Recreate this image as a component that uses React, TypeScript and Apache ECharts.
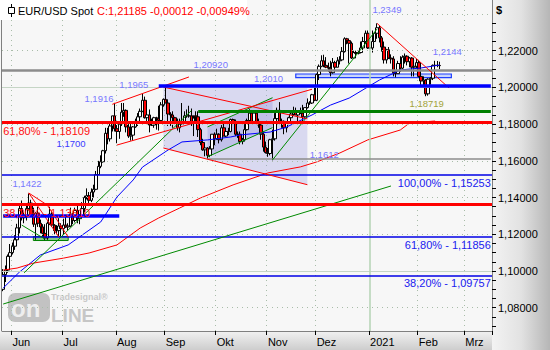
import React, { useEffect, useRef } from "react";
import * as echarts from "echarts";

// ---------- price data: [open, high, low, close] per trading day ----------
const may2020 = [
  [1.0900, 1.1010, 1.0890, 1.0980], [1.0980, 1.1030, 1.0940, 1.1005], [1.1005, 1.1090, 1.0990, 1.1080], [1.1080, 1.1147, 1.1070, 1.1100],
];
const jun2020 = [
  [1.1100, 1.1155, 1.1090, 1.1135], [1.1135, 1.1195, 1.1115, 1.1170], [1.1170, 1.1257, 1.1165, 1.1235], [1.1235, 1.1362, 1.1205, 1.1340], [1.1340, 1.1384, 1.1275, 1.1290],
  [1.1290, 1.1320, 1.1260, 1.1295], [1.1295, 1.1360, 1.1275, 1.1340], [1.1340, 1.1422, 1.1330, 1.1370], [1.1370, 1.1388, 1.1300, 1.1300], [1.1300, 1.1345, 1.1240, 1.1255],
  [1.1255, 1.1320, 1.1170, 1.1315], [1.1315, 1.1350, 1.1240, 1.1260], [1.1260, 1.1280, 1.1205, 1.1240], [1.1240, 1.1255, 1.1185, 1.1205], [1.1205, 1.1255, 1.1168, 1.1180],
  [1.1180, 1.1270, 1.1170, 1.1260], [1.1260, 1.1350, 1.1250, 1.1310], [1.1310, 1.1320, 1.1240, 1.1250], [1.1250, 1.1255, 1.1200, 1.1220], [1.1220, 1.1250, 1.1200, 1.1220],
  [1.1220, 1.1290, 1.1190, 1.1245], [1.1245, 1.1260, 1.1190, 1.1230],
];
const jul2020 = [
  [1.1230, 1.1285, 1.1200, 1.1250], [1.1250, 1.1300, 1.1235, 1.1240], [1.1240, 1.1260, 1.1220, 1.1245],
  [1.1245, 1.1345, 1.1240, 1.1310], [1.1310, 1.1315, 1.1255, 1.1275], [1.1275, 1.1345, 1.1265, 1.1330], [1.1330, 1.1370, 1.1260, 1.1285], [1.1285, 1.1310, 1.1255, 1.1300],
  [1.1300, 1.1375, 1.1300, 1.1340], [1.1340, 1.1410, 1.1320, 1.1400], [1.1400, 1.1450, 1.1390, 1.1410], [1.1410, 1.1430, 1.1370, 1.1385], [1.1385, 1.1450, 1.1375, 1.1430],
  [1.1430, 1.1470, 1.1400, 1.1445], [1.1445, 1.1545, 1.1440, 1.1525], [1.1525, 1.1600, 1.1525, 1.1570], [1.1570, 1.1630, 1.1560, 1.1595], [1.1595, 1.1660, 1.1590, 1.1655],
  [1.1655, 1.1780, 1.1640, 1.1750], [1.1750, 1.1780, 1.1690, 1.1720], [1.1720, 1.1805, 1.1705, 1.1790], [1.1790, 1.1845, 1.1760, 1.1845], [1.1845, 1.1916, 1.1760, 1.1775],
];
const aug2020 = [
  [1.1775, 1.1795, 1.1696, 1.1760], [1.1760, 1.1810, 1.1720, 1.1800], [1.1800, 1.1915, 1.1790, 1.1865], [1.1865, 1.1915, 1.1840, 1.1875], [1.1875, 1.1880, 1.1755, 1.1785],
  [1.1785, 1.1810, 1.1725, 1.1735], [1.1735, 1.1805, 1.1710, 1.1740], [1.1740, 1.1790, 1.1710, 1.1785], [1.1785, 1.1830, 1.1780, 1.1815], [1.1815, 1.1860, 1.1790, 1.1840],
  [1.1840, 1.1885, 1.1835, 1.1870], [1.1870, 1.1965, 1.1865, 1.1930], [1.1930, 1.1950, 1.1830, 1.1835], [1.1835, 1.1885, 1.1800, 1.1850], [1.1850, 1.1880, 1.1755, 1.1795],
  [1.1795, 1.1830, 1.1790, 1.1795], [1.1795, 1.1840, 1.1780, 1.1835], [1.1835, 1.1840, 1.1770, 1.1830], [1.1830, 1.1900, 1.1765, 1.1820], [1.1820, 1.1920, 1.1815, 1.1905],
  [1.1905, 1.1940, 1.1895, 1.1935],
];
const sep2020 = [
  [1.1935, 1.2011, 1.1915, 1.1915], [1.1915, 1.1935, 1.1790, 1.1855], [1.1855, 1.1865, 1.1790, 1.1850], [1.1850, 1.1870, 1.1780, 1.1835],
  [1.1835, 1.1840, 1.1800, 1.1815], [1.1815, 1.1830, 1.1765, 1.1780], [1.1780, 1.1830, 1.1755, 1.1800], [1.1800, 1.1915, 1.1800, 1.1815], [1.1815, 1.1870, 1.1805, 1.1845],
  [1.1845, 1.1880, 1.1835, 1.1845], [1.1845, 1.1900, 1.1835, 1.1845], [1.1845, 1.1885, 1.1790, 1.1815], [1.1815, 1.1830, 1.1735, 1.1845], [1.1845, 1.1870, 1.1810, 1.1840],
  [1.1840, 1.1870, 1.1730, 1.1770], [1.1770, 1.1780, 1.1685, 1.1700], [1.1700, 1.1720, 1.1655, 1.1660], [1.1660, 1.1690, 1.1625, 1.1670], [1.1670, 1.1675, 1.1612, 1.1630],
  [1.1630, 1.1680, 1.1620, 1.1665], [1.1665, 1.1745, 1.1650, 1.1745], [1.1745, 1.1755, 1.1685, 1.1720],
];
const oct2020 = [
  [1.1720, 1.1775, 1.1715, 1.1745], [1.1745, 1.1750, 1.1695, 1.1715],
  [1.1715, 1.1795, 1.1705, 1.1780], [1.1780, 1.1810, 1.1735, 1.1735], [1.1735, 1.1775, 1.1730, 1.1760], [1.1760, 1.1780, 1.1740, 1.1760], [1.1760, 1.1830, 1.1755, 1.1825],
  [1.1825, 1.1830, 1.1795, 1.1815], [1.1815, 1.1825, 1.1735, 1.1745], [1.1745, 1.1760, 1.1725, 1.1745], [1.1745, 1.1760, 1.1690, 1.1705], [1.1705, 1.1725, 1.1690, 1.1715],
  [1.1715, 1.1800, 1.1705, 1.1770], [1.1770, 1.1830, 1.1765, 1.1820], [1.1820, 1.1881, 1.1815, 1.1860], [1.1860, 1.1860, 1.1805, 1.1815], [1.1815, 1.1860, 1.1810, 1.1860],
  [1.1860, 1.1870, 1.1800, 1.1810], [1.1810, 1.1830, 1.1780, 1.1795], [1.1795, 1.1800, 1.1715, 1.1745], [1.1745, 1.1760, 1.1650, 1.1675], [1.1675, 1.1705, 1.1640, 1.1645],
];
const nov2020 = [
  [1.1645, 1.1670, 1.1622, 1.1640], [1.1640, 1.1720, 1.1630, 1.1715], [1.1715, 1.1770, 1.1603, 1.1720], [1.1720, 1.1860, 1.1710, 1.1830], [1.1830, 1.1890, 1.1810, 1.1875],
  [1.1875, 1.1920, 1.1800, 1.1815], [1.1815, 1.1830, 1.1780, 1.1815], [1.1815, 1.1820, 1.1745, 1.1780], [1.1780, 1.1815, 1.1755, 1.1810], [1.1810, 1.1840, 1.1800, 1.1835],
  [1.1835, 1.1870, 1.1820, 1.1855], [1.1855, 1.1895, 1.1845, 1.1865], [1.1865, 1.1890, 1.1850, 1.1850], [1.1850, 1.1870, 1.1815, 1.1870], [1.1870, 1.1890, 1.1855, 1.1860],
  [1.1860, 1.1905, 1.1800, 1.1840], [1.1840, 1.1890, 1.1835, 1.1890], [1.1890, 1.1940, 1.1885, 1.1915], [1.1915, 1.1925, 1.1905, 1.1915], [1.1915, 1.1965, 1.1910, 1.1960],
  [1.1960, 1.2005, 1.1925, 1.1930],
];
const dec2020 = [
  [1.1930, 1.2075, 1.1925, 1.2070], [1.2070, 1.2125, 1.2040, 1.2115], [1.2115, 1.2175, 1.2110, 1.2145], [1.2145, 1.2178, 1.2110, 1.2120],
  [1.2120, 1.2165, 1.2105, 1.2110], [1.2110, 1.2135, 1.2085, 1.2105], [1.2105, 1.2145, 1.2060, 1.2080], [1.2080, 1.2160, 1.2075, 1.2135], [1.2135, 1.2145, 1.2090, 1.2110],
  [1.2110, 1.2165, 1.2110, 1.2145], [1.2145, 1.2170, 1.2125, 1.2150], [1.2150, 1.2220, 1.2150, 1.2195], [1.2195, 1.2273, 1.2190, 1.2265], [1.2265, 1.2270, 1.2235, 1.2255],
  [1.2255, 1.2260, 1.2130, 1.2240], [1.2240, 1.2250, 1.2155, 1.2160], [1.2160, 1.2200, 1.2155, 1.2190], [1.2190, 1.2200, 1.2170, 1.2185], [1.2185, 1.2200, 1.2180, 1.2190],
  [1.2190, 1.2250, 1.2185, 1.2215], [1.2215, 1.2275, 1.2210, 1.2250], [1.2250, 1.2310, 1.2240, 1.2295], [1.2295, 1.2310, 1.2210, 1.2215],
];
const jan2021 = [
  [1.2215, 1.2225, 1.2210, 1.2215],
  [1.2215, 1.2310, 1.2190, 1.2250], [1.2250, 1.2300, 1.2250, 1.2295], [1.2295, 1.2349, 1.2265, 1.2325], [1.2325, 1.2340, 1.2245, 1.2270], [1.2270, 1.2280, 1.2195, 1.2220],
  [1.2220, 1.2250, 1.2130, 1.2150], [1.2150, 1.2210, 1.2130, 1.2205], [1.2205, 1.2220, 1.2155, 1.2160], [1.2160, 1.2180, 1.2130, 1.2155], [1.2155, 1.2170, 1.2060, 1.2080],
  [1.2080, 1.2090, 1.2055, 1.2075], [1.2075, 1.2145, 1.2075, 1.2130], [1.2130, 1.2170, 1.2085, 1.2105], [1.2105, 1.2175, 1.2100, 1.2165], [1.2165, 1.2185, 1.2130, 1.2170],
  [1.2170, 1.2175, 1.2120, 1.2140], [1.2140, 1.2165, 1.2110, 1.2160], [1.2160, 1.2165, 1.2060, 1.2110], [1.2110, 1.2140, 1.2060, 1.2115], [1.2115, 1.2155, 1.2105, 1.2135],
];
const feb2021 = [
  [1.2135, 1.2150, 1.2055, 1.2060], [1.2060, 1.2080, 1.2010, 1.2035], [1.2035, 1.2060, 1.2005, 1.2040], [1.2040, 1.2045, 1.1952, 1.1965], [1.1965, 1.2050, 1.1955, 1.2045],
  [1.2045, 1.2055, 1.2015, 1.2050], [1.2050, 1.2125, 1.2040, 1.2120], [1.2120, 1.2145, 1.2110, 1.2120], [1.2120, 1.2144, 1.2110, 1.21197], [1.21197, 1.2140, 1.2100, 1.21185],
];

// ---------- moving averages (date, value) ----------
const maBluePoints: [string, number][] = [
  ["2020-05-26", 1.0907], ["2020-06-04", 1.0994], ["2020-06-17", 1.1087], ["2020-07-03", 1.1142], ["2020-07-23", 1.1267],
  ["2020-08-03", 1.1403], ["2020-08-12", 1.1496], ["2020-08-18", 1.1566], ["2020-09-02", 1.1659], ["2020-09-10", 1.1703],
  ["2020-09-25", 1.1714], ["2020-10-09", 1.1730], ["2020-10-15", 1.1741], ["2020-11-03", 1.1757], ["2020-11-12", 1.1784],
  ["2020-11-27", 1.1850], ["2020-12-09", 1.1904], ["2020-12-21", 1.1942], ["2021-01-07", 1.2040], ["2021-01-20", 1.2095],
  ["2021-02-02", 1.2106], ["2021-02-12", 1.2122],
];
const maRedPoints: [string, number][] = [
  ["2020-05-26", 1.1005], ["2020-06-03", 1.1016], ["2020-06-12", 1.1043], ["2020-07-01", 1.1070], ["2020-07-16", 1.1098],
  ["2020-08-03", 1.1142], ["2020-08-17", 1.1234], ["2020-08-27", 1.1289], ["2020-09-09", 1.1343], ["2020-09-22", 1.1398],
  ["2020-10-12", 1.1469], ["2020-11-02", 1.1534], ["2020-11-20", 1.1567], ["2020-12-01", 1.1594], ["2020-12-15", 1.1643],
  ["2020-12-31", 1.1714], ["2021-01-20", 1.1768], ["2021-01-26", 1.1806], ["2021-02-10", 1.1817],
];

// ---------- axes ----------
const yLabelValues = [1.08, 1.1, 1.12, 1.14, 1.16, 1.18, 1.2, 1.22];
const gridDotLevels = [1.08, 1.12, 1.14, 1.16, 1.18, 1.22, 1.24];
const gridSolidLevels = [1.1, 1.2];
const monthNames = ["Jan", "Feb", "Mrz", "Apr", "Mai", "Jun", "Jul", "Aug", "Sep", "Okt", "Nov", "Dez"];

// ---------- annotations ----------
const resistanceLevel = 1.2092;
const fibRedLevels = [1.18109, 1.1361];
const fibBlueLevels = [1.15253, 1.11856, 1.09757];
const blueThickSeg: [string, string, number][] = [["2020-08-27", "2021-03-16", 1.201], ["2020-05-26", "2020-08-04", 1.13]];
const greenThickSeg: [string, string, number][] = [["2020-09-21", "2021-03-16", 1.18719]];
const graySeg: [string, string, number][] = [["2020-09-25", "2021-03-16", 1.1612]];
const greenTrends: [string, number, string, number][] = [
  ["2020-05-26", 1.082, "2021-01-14", 1.1463],
  ["2020-06-08", 1.099, "2020-09-16", 1.1873],
  ["2020-11-04", 1.1605, "2021-01-06", 1.2318],
  ["2020-09-25", 1.1785, "2020-11-04", 1.1944],
  ["2020-09-25", 1.1622, "2020-11-04", 1.1781],
  ["2020-06-05", 1.125, "2020-06-19", 1.1174],
];
const redTrends: [string, number, string, number][] = [
  ["2020-07-30", 1.1908, "2020-09-15", 1.2057],
  ["2020-08-03", 1.1686, "2020-11-27", 1.199],
  ["2020-08-31", 1.2002, "2020-11-25", 1.1829],
  ["2020-08-31", 1.167, "2020-11-25", 1.147],
  ["2021-01-06", 1.2349, "2021-02-18", 1.1997],
  ["2020-06-10", 1.1425, "2020-06-22", 1.1359],
  ["2020-06-10", 1.1425, "2020-06-29", 1.1185],
  ["2020-06-22", 1.1359, "2020-07-03", 1.1185],
];
const zones: [string, number][][] = [
  [["2020-08-31", 1.201], ["2020-11-25", 1.201], ["2020-11-25", 1.147], ["2020-08-31", 1.167]],
  [["2020-09-25", 1.1785], ["2020-11-04", 1.1944], ["2020-11-04", 1.1781], ["2020-09-25", 1.1622]],
  [["2020-11-18", 1.2073], ["2021-02-19", 1.2073], ["2021-02-19", 1.2053], ["2020-11-18", 1.2053]],
  [["2020-06-12", 1.1188], ["2020-07-03", 1.1188], ["2020-07-03", 1.1166], ["2020-06-12", 1.1166]],
];
const priceLabels: [string, number, string][] = [
  ["2021-01-04", 1.2422, "1,2349"], ["2021-02-09", 1.2193, "1,2144"], ["2020-09-17", 1.2127, "1,20920"],
  ["2020-10-23", 1.2046, "1,2010"], ["2020-08-04", 1.2018, "1,1965"], ["2020-07-14", 1.1942, "1,1916"],
  ["2020-11-26", 1.1637, "1,1612"], ["2020-06-01", 1.1479, "1,1422"],
];
const oliveLabels: [string, number, string][] = [["2021-01-26", 1.1915, "1,18719"]];
const blueSmallLabels: [string, number, string][] = [["2020-06-26", 1.1697, "1,1700"]];
const fibLeftLabels: [string, number, string][] = [["2020-05-26", 1.1763, "61,80% - 1,18109"], ["2020-05-26", 1.1316, "38,20% - 1,13610"]];
const fibRightLabels: [string, number, string][] = [
  ["2021-03-16", 1.1479, "100,00% - 1,15253"], ["2021-03-16", 1.1142, "61,80% - 1,11856"], ["2021-03-16", 1.0935, "38,20% - 1,09757"],
];

// ---------- derived ----------
const dates: string[] = [];
for (let t = Date.UTC(2020, 4, 26); t <= Date.UTC(2021, 2, 16); t += 86400000) {
  const d = new Date(t);
  const wd = d.getUTCDay();
  if (wd !== 0 && wd !== 6) dates.push(d.toISOString().slice(0, 10));
}
const dateIndex = new Map<string, number>();
dates.forEach((d, i) => dateIndex.set(d, i));
const monthStart = new Set<number>();
dates.forEach((d, i) => {
  if (i > 0 && d.slice(0, 7) !== dates[i - 1].slice(0, 7)) monthStart.add(i);
});
const ohlc = [...may2020, ...jun2020, ...jul2020, ...aug2020, ...sep2020, ...oct2020, ...nov2020, ...dec2020, ...jan2021, ...feb2021];
const candleData = ohlc.map(([o, h, l, c]) => [o, c, l, h]);
const toSeries = (pts: [string, number][]) => {
  const m = new Map(pts);
  return dates.map((d) => (m.has(d) ? m.get(d)! : null));
};

const FONT = "Liberation Sans, Arial, sans-serif";

export default function App() {
  const ref = useRef<HTMLDivElement>(null);
  useEffect(() => {
    if (!ref.current) return;
    const chart = echarts.init(ref.current, undefined, { renderer: "svg" });

    const seg = (a: [string, string, number][], color: string, width: number) =>
      a.map(([d1, d2, v]) => [
        { coord: [d1, v], lineStyle: { color, width, type: "solid" } },
        { coord: [d2, v], lineStyle: { color, width, type: "solid" } },
      ]);
    const trend = (a: [string, number, string, number][], color: string) =>
      a.map(([d1, v1, d2, v2]) => [
        { coord: [d1, v1], lineStyle: { color, width: 1, type: "solid" } },
        { coord: [d2, v2], lineStyle: { color, width: 1, type: "solid" } },
      ]);
    const lbl = (a: [string, number, string][], color: string, size: number, align: string) =>
      a.map(([d, v, t]) => ({
        coord: [d, v],
        label: { show: true, position: "inside", formatter: t, color, fontSize: size, fontFamily: FONT, align, verticalAlign: "middle" },
      }));

    const zoneStyles = [
      { fill: "rgba(150,150,225,0.30)", stroke: "none", lineWidth: 0 },
      { fill: "rgba(130,130,215,0.28)", stroke: "none", lineWidth: 0 },
      { fill: "rgba(170,190,255,0.6)", stroke: "#1f3fff", lineWidth: 1.2 },
      { fill: "#88cc88", stroke: "#008000", lineWidth: 1 },
    ];

    const option: any = {
      animation: false,
      backgroundColor: "#f7f7f7",
      grid: { left: 2, right: 58, top: 0, bottom: 19, show: false },
      xAxis: {
        type: "category",
        data: dates,
        boundaryGap: true,
        axisLine: { show: true, lineStyle: { color: "#808080", width: 1 } },
        axisTick: { show: true, interval: (i: number) => monthStart.has(i), length: 4, lineStyle: { color: "#000" } },
        axisLabel: {
          interval: (i: number) => monthStart.has(i),
          formatter: (v: string) => (v.slice(5, 7) === "01" ? v.slice(0, 4) : monthNames[Number(v.slice(5, 7)) - 1]),
          align: "left",
          color: "#000",
          fontSize: 11,
          fontFamily: FONT,
          margin: 5,
        },
        splitLine: {
          show: true,
          interval: (i: number) => monthStart.has(i) && dates[i] !== "2021-01-01",
          lineStyle: { color: "#a9bda9", type: [1, 4], width: 1 },
        },
      },
      yAxis: {
        type: "value",
        position: "right",
        min: 1.06731,
        max: 1.24762,
        axisLine: { show: true, lineStyle: { color: "#808080" } },
        axisTick: {
          show: true,
          length: 4,
          customValues: Array.from({ length: 34 }, (_, k) => +(1.07 + k * 0.005).toFixed(3)),
          lineStyle: { color: "#000" },
        },
        axisLabel: {
          customValues: yLabelValues,
          formatter: (v: number) => v.toFixed(5).replace(".", ","),
          color: "#000",
          fontSize: 11,
          fontFamily: FONT,
          margin: 6,
        },
        splitLine: { show: false },
      },
      series: [
        {
          type: "line",
          name: "grid",
          data: dates.map(() => null),
          z: 0,
          silent: true,
          markLine: {
            silent: true,
            precision: 6,
            symbol: ["none", "none"],
            label: { show: false },
            animation: false,
            data: [
              ...gridDotLevels.map((v) => ({ yAxis: v, lineStyle: { color: "#a9bda9", type: [1, 4], width: 1 } })),
              ...gridSolidLevels.map((v) => ({ yAxis: v, lineStyle: { color: "#c5d5c5", type: "solid", width: 1 } })),
              { xAxis: "2021-01-01", lineStyle: { color: "#b5d3b5", type: "solid", width: 1.5 } },
            ],
          },
        },
        {
          type: "custom",
          name: "zones",
          z: 1,
          silent: true,
          data: zones.map((zn) => [dateIndex.get(zn[0][0]), zn[0][1]]),
          renderItem: (params: any, api: any) => {
            const zn = zones[params.dataIndex];
            const pts = zn.map(([d, v]) => api.coord([dateIndex.get(d), v]));
            const st = zoneStyles[params.dataIndex];
            return { type: "polygon", shape: { points: pts }, style: { fill: st.fill, stroke: st.stroke, lineWidth: st.lineWidth } };
          },
        },
        {
          type: "candlestick",
          name: "EUR/USD",
          data: candleData,
          barWidth: 3,
          z: 2,
          itemStyle: { color: "#ffffff", color0: "#ff0000", borderColor: "#000000", borderColor0: "#000000", borderWidth: 1 },
        },
        {
          type: "line",
          name: "MA blue",
          data: toSeries(maBluePoints),
          connectNulls: true,
          showSymbol: false,
          symbol: "none",
          z: 3,
          lineStyle: { color: "#0000ff", width: 1 },
        },
        {
          type: "line",
          name: "MA red",
          data: toSeries(maRedPoints),
          connectNulls: true,
          showSymbol: false,
          symbol: "none",
          z: 3,
          lineStyle: { color: "#ff0000", width: 1 },
        },
        {
          type: "line",
          name: "annotations",
          data: dates.map(() => null),
          z: 4,
          silent: true,
          markLine: {
            silent: true,
            precision: 6,
            symbol: ["none", "none"],
            label: { show: false },
            data: [
              { yAxis: resistanceLevel, lineStyle: { color: "#8c8c8c", width: 2.5, type: "solid" } },
              ...fibBlueLevels.map((v) => ({ yAxis: v, lineStyle: { color: "#0000e6", width: 1.5, type: "solid" } })),
              ...seg(graySeg, "#8c8c8c", 1.5),
              ...trend(greenTrends, "#008a00"),
              ...trend(redTrends, "#ff0000"),
              ...fibRedLevels.map((v) => ({ yAxis: v, lineStyle: { color: "#ff0000", width: 3, type: "solid" } })),
              ...seg(greenThickSeg, "#008000", 3),
              ...seg(blueThickSeg, "#0000ff", 3.5),
            ],
          },
          markPoint: {
            silent: true,
            symbol: "circle",
            symbolSize: 1,
            itemStyle: { color: "rgba(0,0,0,0)" },
            data: [
              ...lbl(priceLabels, "#7878ff", 9.5, "left"),
              ...lbl(oliveLabels, "#a3a33a", 9.5, "left"),
              ...lbl(blueSmallLabels, "#3b3bff", 9.5, "left"),
              ...lbl(fibLeftLabels, "#ff1010", 11, "left"),
              ...lbl(fibRightLabels, "#2020f0", 11, "right"),
            ],
          },
        },
      ],
      graphic: {
        elements: [
          {
            type: "rect",
            z: -1,
            silent: true,
            shape: { x: 492, y: 0, width: 58, height: 350 },
            style: {
              fill: { type: "linear", x: 0, y: 0, x2: 1, y2: 0, colorStops: [{ offset: 0, color: "#f3f3f3" }, { offset: 0.5, color: "#e2e2e2" }, { offset: 1, color: "#b6b6b6" }] },
            },
          },
          {
            type: "rect",
            z: -1,
            silent: true,
            shape: { x: 0, y: 331, width: 492, height: 19 },
            style: {
              fill: { type: "linear", x: 0, y: 0, x2: 0, y2: 1, colorStops: [{ offset: 0, color: "#f2f2f2" }, { offset: 1, color: "#cdcdcd" }] },
            },
          },
          { type: "line", z: 5, silent: true, shape: { x1: 1.5, y1: 0, x2: 1.5, y2: 331 }, style: { stroke: "#808080", lineWidth: 1 } },
          // watermark
          { type: "rect", z: -1, silent: true, shape: { x: 8, y: 293, width: 42, height: 29, r: 7 }, style: { fill: "#c2c2c2" } },
          { type: "text", z: -1, silent: true, style: { x: 11, y: 308, text: "on", fill: "#eeeeee", font: "bold 24px Liberation Sans, Arial, sans-serif", textVerticalAlign: "middle" } },
          { type: "text", z: -1, silent: true, style: { x: 51, y: 315, text: "LINE", fill: "#c6c6c6", font: "bold 19px Liberation Sans, Arial, sans-serif", textVerticalAlign: "middle" } },
          { type: "text", z: -1, silent: true, style: { x: 51, y: 297, text: "Tradesignal®", fill: "#c8c8c8", font: "bold 9px Liberation Sans, Arial, sans-serif", textVerticalAlign: "middle" } },
          // title
          { type: "rect", z: 10, silent: true, shape: { x: 0, y: 0, width: 247, height: 20 }, style: { fill: "#ffffff" } },
          { type: "line", z: 11, silent: true, shape: { x1: 11.5, y1: 4, x2: 11.5, y2: 17 }, style: { stroke: "#000", lineWidth: 1 } },
          { type: "rect", z: 12, silent: true, shape: { x: 8.5, y: 7.5, width: 6, height: 6 }, style: { fill: "#ffffff", stroke: "#000", lineWidth: 1 } },
          { type: "text", z: 11, silent: true, style: { x: 18, y: 11, text: "EUR/USD Spot", fill: "#000", font: "11px Liberation Sans, Arial, sans-serif", textVerticalAlign: "middle" } },
          { type: "text", z: 11, silent: true, style: { x: 97, y: 11, text: "C:1,21185 -0,00012 -0,00949%", fill: "#ff0000", font: "11px Liberation Sans, Arial, sans-serif", textVerticalAlign: "middle" } },
          { type: "text", z: 11, silent: true, style: { x: 496, y: 10, text: "$", fill: "#000", font: "bold 11px Liberation Sans, Arial, sans-serif", textVerticalAlign: "middle" } },
        ],
      },
    };
    chart.setOption(option);
    return () => chart.dispose();
  }, []);
  return <div ref={ref} style={{ position: "fixed", left: 0, top: 0, width: 550, height: 350 }} />;
}
